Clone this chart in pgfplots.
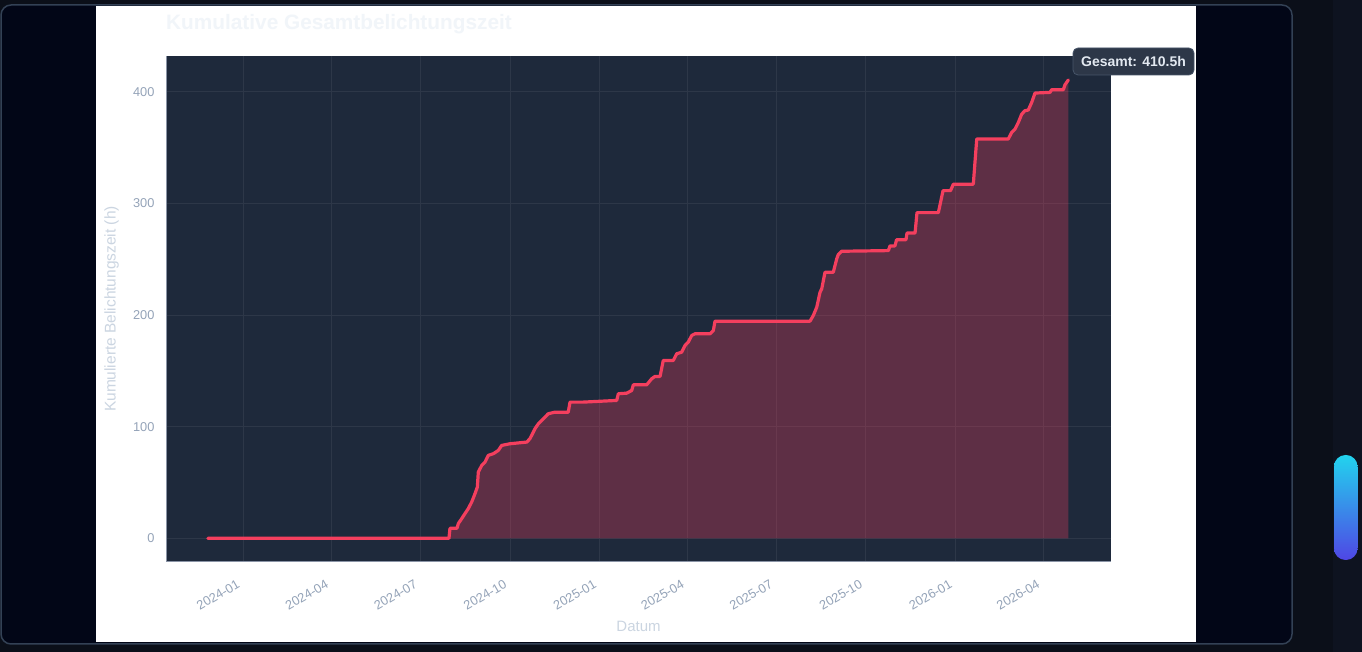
\documentclass[border=0pt]{standalone}
\usepackage{pgfplots}
\pgfplotsset{compat=1.18}
\usepackage{pgfplotstable}
\usepackage{fontspec}
\setmainfont{Liberation Sans}

\definecolor{pagebg}{HTML}{0B0F19}
\definecolor{panelbg}{HTML}{020617}
\definecolor{panelborder}{HTML}{334155}
\definecolor{plotbg}{HTML}{1E293B}
\definecolor{gridc}{HTML}{2D3748}
\definecolor{rose}{HTML}{F43F5E}
\definecolor{tickc}{HTML}{94A3B8}
\definecolor{labelc}{HTML}{CBD5E1}
\definecolor{titlec}{HTML}{F1F5F9}
\definecolor{badgebg}{HTML}{2D3748}
\definecolor{badgeborder}{HTML}{475569}
\definecolor{badgetext}{HTML}{E2E8F0}
\definecolor{spinec}{HTML}{8A94A6}
\definecolor{thumbtop}{HTML}{22D3EE}
\definecolor{thumbbot}{HTML}{4F46E5}
\definecolor{trackc}{HTML}{0E1320}

% day offset from 2024-01-01, cumulative hours
\pgfplotstableread{
day hours
-36 0
211.4 0
212.4 9.0
219.6 9.0
221.0 13.2
224.4 17.6
227.8 22.1
231.2 26.6
234.7 32.5
238.1 40.0
240.5 45.9
241.5 59.3
245.0 65.3
248.4 68.3
251.7 74.3
256.9 75.8
262.0 78.7
265.5 83.2
274.0 84.7
291.2 86.2
294.5 89.2
299.7 98.2
303.1 102.6
308.2 107.1
313.3 111.6
320.2 113.0
333.8 113.0
335.6 122.0
349.2 122.0
383.5 123.5
385.2 129.5
393.8 130.0
398.9 132.4
400.6 137.5
414.3 137.5
419.4 142.9
422.8 145.0
428.0 145.0
431.3 159.3
441.6 159.3
445.1 165.3
450.2 166.7
453.6 172.7
457.0 175.7
460.5 181.7
463.9 183.2
479.3 183.2
482.7 186.1
484.4 194.5
581.9 194.5
585.3 199.6
588.8 207.0
592.2 220.4
593.9 223.4
597.3 238.3
605.8 238.3
609.3 250.3
610.9 254.1
614.4 257.1
662.3 257.7
664.0 261.9
669.1 261.9
670.7 267.4
680.4 267.4
681.4 273.4
689.7 273.4
691.7 291.7
713.6 291.7
717.1 306.0
718.4 311.4
726.1 311.4
729.0 317.2
749.5 317.2
753.0 357.7
785.4 357.7
788.9 363.6
792.3 366.6
795.7 372.5
799.2 380.0
802.5 383.0
805.9 383.6
809.4 390.4
812.8 398.8
828.2 399.4
829.9 401.8
841.9 401.8
843.6 406.3
847.0 410.5
}\cumdata

\begin{document}
\begin{tikzpicture}[x=1bp,y=1bp]
\useasboundingbox (0,0) rectangle (1362,652);
\fill[pagebg] (0,0) rectangle (1362,652);
\fill[trackc] (1333,0) rectangle (1362,652);
\filldraw[fill=panelbg, draw=panelborder, line width=1.5bp, rounded corners=10bp] (1,8) rectangle (1292,647);
\fill[white] (96,10) rectangle (1196,646);
\shade[top color=thumbtop, bottom color=thumbbot, rounded corners=11.5bp] (1334,92) rectangle (1357.5,197);

\node[anchor=base west, text=titlec, font=\fontsize{20.8bp}{25bp}\selectfont\bfseries, inner sep=0pt] at (166,622) {Kumulative Gesamtbelichtungszeit};
\node[rotate=90, text=labelc, font=\fontsize{15.5bp}{18bp}\selectfont, inner sep=0pt] at (111.5,343) {Kumulierte Belichtungszeit (h)};
\node[text=labelc, font=\fontsize{15bp}{18bp}\selectfont, inner sep=0pt] at (638.5,26) {Datum};

\begin{axis}[
  at={(166bp,90bp)}, anchor=south west,
  scale only axis, width=945bp, height=506bp,
  xmin=-79, xmax=890.8, ymin=-21.2, ymax=432,
  axis background/.style={fill=plotbg},
  axis x line*=bottom, axis y line*=left,
  axis line style={spinec, line width=1bp},
  xtick={0,91,182,274,366,456,547,639,731,821},
  xticklabels={2024-01,2024-04,2024-07,2024-10,2025-01,2025-04,2025-07,2025-10,2026-01,2026-04},
  ytick={0,100,200,300,400},
  grid=major, major grid style={gridc, line width=0.8bp},
  tick style={draw=none},
  /pgf/number format/assume math mode=true,
  tick label style={text=tickc, font=\fontsize{12.8bp}{15bp}\selectfont},
  xticklabel style={rotate=30, anchor=north east, yshift=-8bp, xshift=-11bp},
  yticklabel style={xshift=-8bp},
  clip=false,
]
\addplot[draw=none, fill=rose, fill opacity=0.3] table[x=day, y=hours] {\cumdata} \closedcycle;
\addplot[rose, line width=3.2bp, line join=round, line cap=round] table[x=day, y=hours] {\cumdata};
\end{axis}

\node[fill=badgebg, draw=badgeborder, line width=0.8bp, rounded corners=5bp, text=badgetext,
  font=\fontsize{14bp}{16bp}\selectfont\bfseries, minimum width=121bp, minimum height=27bp, inner sep=0pt]
  at (1133.5,590.5) {Gesamt: 410.5h};
\end{tikzpicture}
\end{document}
